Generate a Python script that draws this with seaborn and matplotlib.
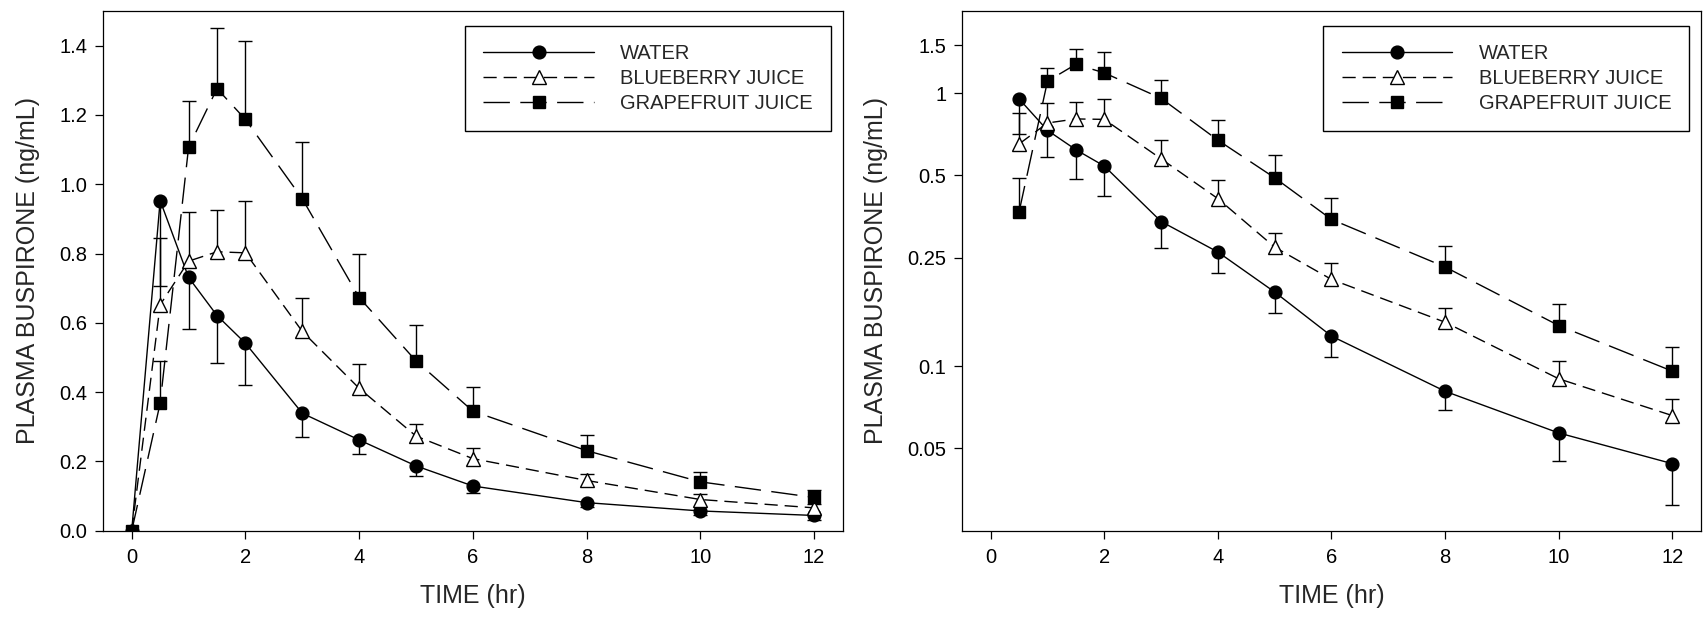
import numpy as np
import pandas as pd
import matplotlib
matplotlib.use("Agg")
import matplotlib.pyplot as plt
import seaborn as sns

# ---------------- data ----------------
time = [0, 0.5, 1, 1.5, 2, 3, 4, 5, 6, 8, 10, 12]

water = [0.0, 0.953, 0.731, 0.621, 0.541, 0.339, 0.262, 0.187, 0.129, 0.081, 0.057, 0.044]
water_se = [0.0, 0.246, 0.149, 0.136, 0.120, 0.068, 0.042, 0.030, 0.021, 0.012, 0.012, 0.013]

blueberry = [0.0, 0.652, 0.778, 0.805, 0.802, 0.575, 0.411, 0.273, 0.208, 0.145, 0.090, 0.066]
blueberry_se = [0.0, 0.193, 0.141, 0.122, 0.149, 0.098, 0.071, 0.035, 0.030, 0.019, 0.015, 0.010]

grapefruit = [0.0, 0.368, 1.107, 1.276, 1.187, 0.958, 0.673, 0.490, 0.345, 0.231, 0.141, 0.096]
grapefruit_se = [0.0, 0.122, 0.133, 0.174, 0.227, 0.164, 0.127, 0.104, 0.069, 0.044, 0.028, 0.022]

series_names = ["WATER", "BLUEBERRY JUICE", "GRAPEFRUIT JUICE"]

xticks = [0, 2, 4, 6, 8, 10, 12]
lin_yticks = [0.0, 0.2, 0.4, 0.6, 0.8, 1.0, 1.2, 1.4]
lin_yticklabels = ["0.0", "0.2", "0.4", "0.6", "0.8", "1.0", "1.2", "1.4"]
log_yticks = [0.05, 0.1, 0.25, 0.5, 1, 1.5]
log_yticklabels = ["0.05", "0.1", "0.25", "0.5", "1", "1.5"]

xlabel = "TIME (hr)"
ylabel = "PLASMA BUSPIRONE (ng/mL)"

# ---------------- styling ----------------
sns.set_theme(style="ticks")
plt.rcParams["font.family"] = ["Liberation Sans", "DejaVu Sans"]
plt.rcParams["axes.linewidth"] = 0.9
plt.rcParams["xtick.major.width"] = 0.9
plt.rcParams["ytick.major.width"] = 0.9
plt.rcParams["xtick.major.size"] = 5.6
plt.rcParams["ytick.major.size"] = 5.6
plt.rcParams["xtick.major.pad"] = 7
plt.rcParams["ytick.major.pad"] = 6
plt.rcParams["xtick.color"] = "black"
plt.rcParams["ytick.color"] = "black"
plt.rcParams["axes.edgecolor"] = "black"

styles = {
    "WATER": dict(marker="o", mfc="black", dashes=None, err="down"),
    "BLUEBERRY JUICE": dict(marker="^", mfc="white", dashes=(9.5, 5), err="up"),
    "GRAPEFRUIT JUICE": dict(marker="s", mfc="black", dashes=(19, 7.5), err="up"),
}
means = {"WATER": water, "BLUEBERRY JUICE": blueberry, "GRAPEFRUIT JUICE": grapefruit}
ses = {"WATER": water_se, "BLUEBERRY JUICE": blueberry_se, "GRAPEFRUIT JUICE": grapefruit_se}
msize = {"o": 9.2, "^": 9.6, "s": 8.4}

fig = plt.figure(figsize=(17.03, 6.19), dpi=100)
ax1 = fig.add_axes([103.3 / 1703, 88.3 / 619, 739.2 / 1703, 519.7 / 619])
ax2 = fig.add_axes([962.3 / 1703, 88.3 / 619, 738.4 / 1703, 519.7 / 619])


def draw(ax, log):
    handles = []
    for name in series_names:
        st = styles[name]
        t = np.array(time, dtype=float)
        m = np.array(means[name], dtype=float)
        e = np.array(ses[name], dtype=float)
        if log:
            keep = t > 0
            t, m, e = t[keep], m[keep], e[keep]
        df = pd.DataFrame({"time": t, "conc": m})
        sns.lineplot(data=df, x="time", y="conc", ax=ax, color="black",
                     marker=st["marker"], markersize=msize[st["marker"]],
                     markerfacecolor=st["mfc"], markeredgecolor="black",
                     markeredgewidth=1.0, linewidth=1.0, errorbar=None,
                     legend=False, zorder=4)
        line = ax.lines[-1]
        if st["dashes"] is not None:
            line.set_dashes(st["dashes"])
        handles.append(line)
        # one-sided error bars
        end = m - e if st["err"] == "down" else m + e
        has = e > 0
        ax.vlines(t[has], m[has], end[has], colors="black", linewidth=1.0, zorder=2)
        ax.plot(t[has], end[has], linestyle="none", marker="_", markersize=9.5,
                markeredgewidth=1.0, color="black", zorder=2)
    return handles


h1 = draw(ax1, log=False)
h2 = draw(ax2, log=True)

for ax in (ax1, ax2):
    ax.set_xlim(-0.5, 12.5)
    ax.set_xticks(xticks)
    ax.set_xticklabels([str(v) for v in xticks], fontsize=14.5)
    ax.set_xlabel(xlabel, fontsize=18, labelpad=12)
    ax.set_ylabel(ylabel, fontsize=18, labelpad=14)
    ax.tick_params(axis="both", direction="out", top=False, right=False)
    for sp in ax.spines.values():
        sp.set_visible(True)
        sp.set_color("black")

ax1.set_ylim(0, 1.5)
ax1.set_yticks(lin_yticks)
ax1.set_yticklabels(lin_yticklabels, fontsize=14.5)

ax2.set_yscale("log")
ax2.set_ylim(0.025, 2.0)
ax2.set_yticks(log_yticks)
ax2.set_yticklabels(log_yticklabels, fontsize=14.5)
ax2.minorticks_off()
ax2.yaxis.set_minor_locator(matplotlib.ticker.NullLocator())

for ax, hs in ((ax1, h1), (ax2, h2)):
    leg = ax.legend(hs, series_names, loc="upper right",
                    bbox_to_anchor=(1 - 11.4 / 739, 1 - 14.7 / 519.7),
                    borderaxespad=0, fontsize=14.5, handlelength=5.5,
                    handletextpad=1.3, labelspacing=0.3, borderpad=0.9,
                    fancybox=False, framealpha=1, edgecolor="black")
    leg.get_frame().set_linewidth(1.0)

fig.savefig("out.png", dpi=100, facecolor="white")
